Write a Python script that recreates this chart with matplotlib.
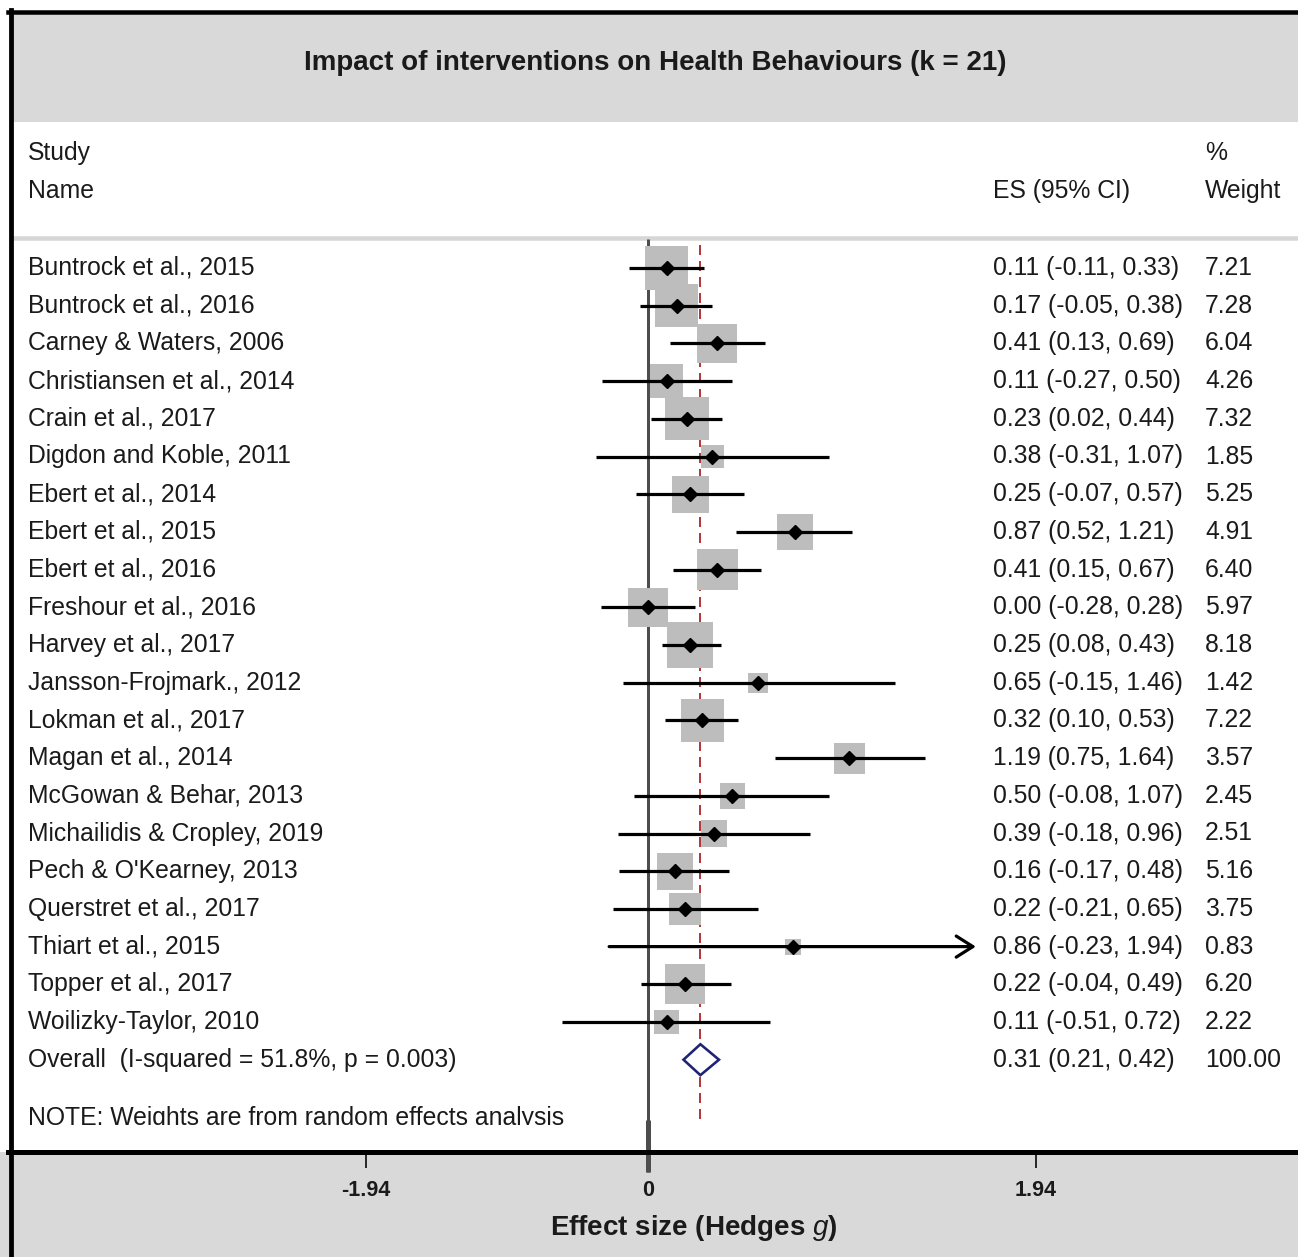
import numpy as np
import matplotlib
matplotlib.use("Agg")
import matplotlib.pyplot as plt
from matplotlib.lines import Line2D
from matplotlib.patches import Rectangle
from matplotlib.transforms import Bbox, TransformedBbox, blended_transform_factory

# ---- study data ----
studies = [
    "Buntrock et al., 2015", "Buntrock et al., 2016", "Carney & Waters, 2006",
    "Christiansen et al., 2014", "Crain et al., 2017", "Digdon and Koble, 2011",
    "Ebert et al., 2014", "Ebert et al., 2015", "Ebert et al., 2016",
    "Freshour et al., 2016", "Harvey et al., 2017", "Jansson-Frojmark., 2012",
    "Lokman et al., 2017", "Magan et al., 2014", "McGowan & Behar, 2013",
    "Michailidis & Cropley, 2019", "Pech & O'Kearney, 2013", "Querstret et al., 2017",
    "Thiart et al., 2015", "Topper et al., 2017", "Woilizky-Taylor, 2010",
]
es = [0.11, 0.17, 0.41, 0.11, 0.23, 0.38, 0.25, 0.87, 0.41, 0.00, 0.25,
      0.65, 0.32, 1.19, 0.50, 0.39, 0.16, 0.22, 0.86, 0.22, 0.11]
ci_low = [-0.11, -0.05, 0.13, -0.27, 0.02, -0.31, -0.07, 0.52, 0.15, -0.28, 0.08,
          -0.15, 0.10, 0.75, -0.08, -0.18, -0.17, -0.21, -0.23, -0.04, -0.51]
ci_high = [0.33, 0.38, 0.69, 0.50, 0.44, 1.07, 0.57, 1.21, 0.67, 0.28, 0.43,
           1.46, 0.53, 1.64, 1.07, 0.96, 0.48, 0.65, 1.94, 0.49, 0.72]
weights = [7.21, 7.28, 6.04, 4.26, 7.32, 1.85, 5.25, 4.91, 6.40, 5.97, 8.18,
           1.42, 7.22, 3.57, 2.45, 2.51, 5.16, 3.75, 0.83, 6.20, 2.22]

overall_label = "Overall  (I-squared = 51.8%, p = 0.003)"
overall_es, overall_low, overall_high, overall_weight = 0.31, 0.21, 0.42, 100.00
note_text = "NOTE: Weights are from random effects analysis"

title = "Impact of interventions on Health Behaviours (k = 21)"
axis_ticks = [-1.94, 0, 1.94]
axis_tick_labels = ["-1.94", "0", "1.94"]
axis_clip = 1.94

# ---- styling ----
plt.rcParams["font.family"] = ["Liberation Sans", "DejaVu Sans"]
plt.rcParams["mathtext.fontset"] = "custom"
plt.rcParams["mathtext.it"] = "Liberation Sans:italic"
plt.rcParams["mathtext.rm"] = "Liberation Sans"

W, H = 1298, 1257
PT = 0.72          # points per pixel at 100 dpi
TXT = "#1a1a1a"
GRAY_BG = "#d9d9d9"
FS = 17.8


def fx(px):
    return px / W


def fy(py):
    return 1 - py / H


fig = plt.figure(figsize=(W / 100, H / 100), dpi=100)

# main forest area: x in effect size units, y in row index
px_per_unit = 169.0
zero_px = 648.0
row0_px, row_step = 268.0, 37.7
main_bottom_px = 1152.0

ax = fig.add_axes([0, fy(main_bottom_px), 1, main_bottom_px / H])
ax.set_xlim(-zero_px / px_per_unit, (W - zero_px) / px_per_unit)
ax.set_ylim((main_bottom_px - row0_px) / row_step, -row0_px / row_step)
ax.axis("off")
ax.set_zorder(3)

# bottom axis panel with its own tick scale
A_neg = (zero_px - 366.0) / 1.94
A_pos = (1036.0 - zero_px) / 1.94


def fwd(x):
    x = np.asarray(x, dtype=float)
    return np.where(x < 0, x * A_neg, x * A_pos)


def inv(p):
    p = np.asarray(p, dtype=float)
    return np.where(p < 0, p / A_neg, p / A_pos)


axb = fig.add_axes([0, 0, 1, fy(main_bottom_px)])
axb.set_facecolor(GRAY_BG)
axb.set_xscale("function", functions=(fwd, inv))
axb.set_xlim(float(inv(-zero_px)), float(inv(W - zero_px)))
axb.set_ylim(0, 1)
for s in axb.spines.values():
    s.set_visible(False)
axb.set_yticks([])
axb.set_xticks(axis_ticks)
axb.xaxis.tick_top()
axb.tick_params(axis="x", direction="in", length=16 * PT, width=1.6 * PT,
                color="black", labeltop=False, labelbottom=False)
tb = blended_transform_factory(axb.transData, axb.transAxes)
for v, lab in zip(axis_ticks, axis_tick_labels):
    axb.text(v, (H - 1191) / (H - main_bottom_px), lab, transform=tb,
             ha="center", va="center", fontsize=15.5, fontweight="bold", color=TXT)

fig.text(fx(694), fy(1228), r"Effect size (Hedges $g$)", ha="center", va="center",
         fontsize=20, fontweight="bold", color=TXT)

# header band, separator and frame
fig.patches.append(Rectangle((fx(12), fy(122)), 1 - fx(12), (122 - 13) / H,
                             transform=fig.transFigure, facecolor=GRAY_BG,
                             edgecolor="none", zorder=0))
fig.lines.append(Line2D([fx(12), 1], [fy(237.5)] * 2, transform=fig.transFigure,
                        color="#d6d6d6", lw=4.5 * PT, zorder=1))
fig.lines.append(Line2D([fx(8), 1], [fy(12)] * 2, transform=fig.transFigure,
                        color="black", lw=4.5 * PT, zorder=10))
fig.lines.append(Line2D([fx(10.5)] * 2, [fy(10), 0], transform=fig.transFigure,
                        color="black", lw=4.8 * PT, zorder=10))
fig.lines.append(Line2D([fx(8), 1], [fy(1151.5)] * 2, transform=fig.transFigure,
                        color="black", lw=5 * PT, zorder=10))

fig.text(fx(655), fy(63), title, ha="center", va="center", fontsize=20,
         fontweight="bold", color=TXT)

# column headers and text columns
tr = ax.get_yaxis_transform()
col_name, col_es, col_wt = fx(28), fx(993), fx(1205)
r_study = (153 - row0_px) / row_step
r_name = (191 - row0_px) / row_step
ax.text(col_name, r_study, "Study", transform=tr, va="center", fontsize=FS, color=TXT)
ax.text(col_name, r_name, "Name", transform=tr, va="center", fontsize=FS, color=TXT)
ax.text(col_es, r_name, "ES (95% CI)", transform=tr, va="center", fontsize=FS, color=TXT)
ax.text(col_wt, r_study, "%", transform=tr, va="center", fontsize=FS, color=TXT)
ax.text(col_wt, r_name, "Weight", transform=tr, va="center", fontsize=FS, color=TXT)

rows = np.arange(len(studies))
overall_row = len(studies)

for r, name, e, lo, hi, w in zip(rows, studies, es, ci_low, ci_high, weights):
    ax.text(col_name, r, name, transform=tr, va="center", fontsize=FS, color=TXT)
    ax.text(col_es, r, f"{e:.2f} ({lo:.2f}, {hi:.2f})", transform=tr,
            va="center", fontsize=FS, color=TXT)
    ax.text(col_wt, r, f"{w:.2f}", transform=tr, va="center", fontsize=FS, color=TXT)

ax.text(col_name, overall_row, overall_label, transform=tr, va="center", fontsize=FS, color=TXT)
ax.text(col_es, overall_row,
        f"{overall_es:.2f} ({overall_low:.2f}, {overall_high:.2f})",
        transform=tr, va="center", fontsize=FS, color=TXT)
ax.text(col_wt, overall_row, f"{overall_weight:.2f}", transform=tr,
        va="center", fontsize=FS, color=TXT)

# note line, cut at its baseline
note_row = overall_row + 1.72
note = ax.text(col_name, note_row, note_text, transform=tr, va="baseline",
               fontsize=FS, color=TXT)
baseline_frac = (main_bottom_px - (row0_px + note_row * row_step)) / main_bottom_px
note.set_clip_on(True)
note.set_clip_box(TransformedBbox(Bbox([[0, baseline_frac], [1, 1]]), ax.transAxes))

# reference lines
ax.plot([0, 0], [-0.77, 23.98], color="#4d4d4d", lw=3 * PT, zorder=1,
        clip_on=False, solid_capstyle="butt")
ax.plot([0, 0], [22.6, 23.98], color="#4d4d4d", lw=5 * PT, zorder=1,
        clip_on=False, solid_capstyle="butt")
ax.plot([overall_es, overall_es], [-0.6, 22.73], color="#b23a3a", lw=2 * PT,
        ls=(0, (5, 3)), zorder=1)

# weight boxes
sides_pt = (15.3 * np.sqrt(weights) + 2) * PT
ax.scatter(es, rows, s=sides_pt ** 2, marker="s", color="#bdbdbd",
           edgecolors="none", zorder=2)

# confidence intervals
for r, lo, hi in zip(rows, ci_low, ci_high):
    if hi >= axis_clip:
        ax.annotate("", xy=(axis_clip, r), xytext=(lo, r),
                    arrowprops=dict(arrowstyle="->,head_length=0.6,head_width=0.38",
                                    lw=2.3, color="black", shrinkA=0, shrinkB=0,
                                    mutation_scale=20),
                    zorder=3)
    else:
        ax.plot([lo, hi], [r, r], color="black", lw=2.3, zorder=3,
                solid_capstyle="butt")

ax.plot(es, rows, ls="none", marker="D", ms=7.2, color="black", zorder=4)

# pooled estimate diamond
h = 0.41
ax.fill([overall_low, overall_es, overall_high, overall_es],
        [overall_row, overall_row - h, overall_row, overall_row + h],
        facecolor="white", edgecolor="#1f2375", lw=2.6 * PT, zorder=4,
        joinstyle="miter")

fig.savefig("out.png", dpi=100)
